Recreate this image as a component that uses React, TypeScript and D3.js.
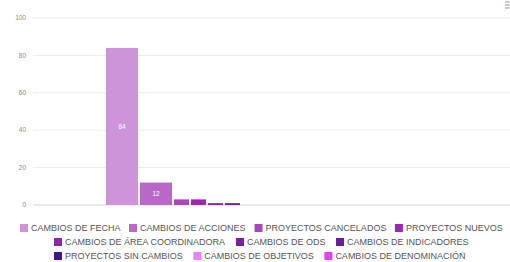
import { useMemo } from 'react';
import * as d3 from 'd3';

const series = [
  'CAMBIOS DE FECHA',
  'CAMBIOS DE ACCIONES',
  'PROYECTOS CANCELADOS',
  'PROYECTOS NUEVOS',
  'CAMBIOS DE ÁREA COORDINADORA',
  'CAMBIOS DE ODS',
  'CAMBIOS DE INDICADORES',
  'PROYECTOS SIN CAMBIOS',
  'CAMBIOS DE OBJETIVOS',
  'CAMBIOS DE DENOMINACIÓN',
];
const values = [84, 12, 3, 3, 1, 1, 0, 0, 0, 0];
const yTicks = [0, 20, 40, 60, 80, 100];

const colors = [
  '#ce93d8', '#ba68c8', '#ab47bc', '#9c27b0', '#8e24aa',
  '#7b1fa2', '#6a1b9a', '#4a148c', '#ea80fc', '#e040fb',
];

// bar widths in slot units (the source chart draws the first two bars double wide)
const spans = [2, 2, 1, 1, 1, 1, 1, 1, 1, 1];
const legendRows = [[0, 1, 2, 3], [4, 5, 6], [7, 8, 9]];
const legendRowX = [20, 54, 54];
const legendRowY = [228, 242, 256];

const W = 510;
const H = 262;
const FONT = '"Liberation Sans", Arial, sans-serif';
const LEGEND_FS = 9;

export default function App() {
  const y = d3.scaleLinear().domain([0, 100]).range([205, 18]);

  const starts = d3.cumsum([0, ...spans]);
  const x = d3.scaleLinear().domain([0, 1]).range([106, 123]);

  const measure = useMemo(() => {
    const ctx = document.createElement('canvas').getContext('2d')!;
    ctx.font = `${LEGEND_FS}px ${FONT}`;
    return (s: string) => ctx.measureText(s).width;
  }, []);

  return (
    <svg
      width={W}
      height={H}
      style={{ position: 'absolute', left: 0, top: 0, background: '#fff' }}
      fontFamily={FONT}
    >
      {/* grid */}
      {yTicks.map((t) => (
        <g key={t}>
          <line
            x1={33}
            x2={W}
            y1={y(t)}
            y2={y(t)}
            stroke={t === 0 ? '#d6d6d6' : '#ececec'}
            strokeWidth={1}
          />
          <text
            x={26}
            y={y(t)}
            dy="0.35em"
            textAnchor="end"
            fontSize={6.5}
            fill="#8a8a8a"
          >
            {t}
          </text>
        </g>
      ))}

      {/* bars */}
      {values.map((v, i) => {
        if (v <= 0) return null;
        const x0 = x(starts[i]);
        const x1 = x(starts[i] + spans[i]) - 2;
        return (
          <g key={series[i]}>
            <rect
              x={x0}
              y={y(v)}
              width={x1 - x0}
              height={y(0) - y(v)}
              fill={colors[i]}
            />
            {v >= 10 && (
              <text
                x={(x0 + x1) / 2}
                y={(y(v) + y(0)) / 2}
                dy="0.35em"
                textAnchor="middle"
                fontSize={6.5}
                fill="#fff"
              >
                {v}
              </text>
            )}
          </g>
        );
      })}

      {/* menu icon */}
      {[2, 5, 8].map((yy) => (
        <line key={yy} x1={505} x2={510} y1={yy} y2={yy} stroke="#9aa" strokeWidth={1.2} />
      ))}

      {/* legend */}
      {legendRows.map((row, r) => {
        let cx = legendRowX[r];
        const gap = r === 0 ? 8.5 : 10.5;
        return row.map((i) => {
          const tx = cx;
          cx += 11 + measure(series[i]) + gap;
          return (
            <g key={series[i]}>
              <rect x={tx} y={legendRowY[r] - 4} width={8} height={8} fill={colors[i]} />
              <text
                x={tx + 11}
                y={legendRowY[r]}
                dy="0.35em"
                fontSize={LEGEND_FS}
                fill="#555"
              >
                {series[i]}
              </text>
            </g>
          );
        });
      })}
    </svg>
  );
}
